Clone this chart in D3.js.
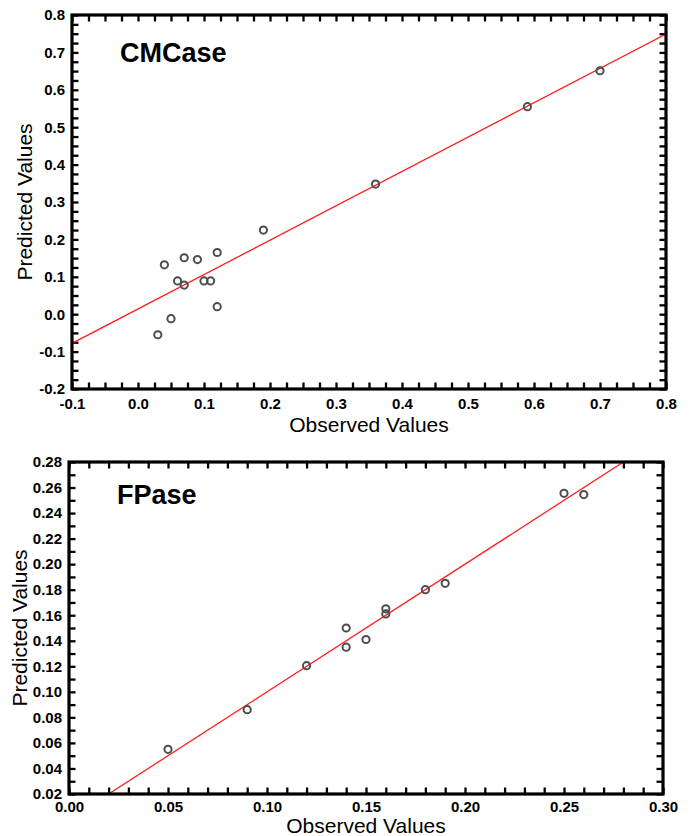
<!DOCTYPE html>
<html>
<head>
<meta charset="utf-8">
<script src="https://cdn.jsdelivr.net/npm/d3@7"></script>
<style>
  body { margin: 0; background: #fff; }
  svg { display: block; font-family: "Liberation Sans", Arial, sans-serif; }
</style>
</head>
<body>
<svg id="chart" width="693" height="836"></svg>
<script>
// CMCase panel
const cmObserved  = [0.03, 0.05, 0.04, 0.06, 0.07, 0.07, 0.09, 0.10, 0.11, 0.12, 0.12, 0.19, 0.36, 0.59, 0.70];
const cmPredicted = [-0.055, -0.012, 0.132, 0.089, 0.078, 0.151, 0.146, 0.089, 0.089, 0.165, 0.020, 0.225, 0.348, 0.555, 0.651];
const cmFit = [0.919, 0.014]; // slope, intercept
const cmXTicks = [-0.1, 0.0, 0.1, 0.2, 0.3, 0.4, 0.5, 0.6, 0.7, 0.8];
const cmYTicks = [-0.2, -0.1, 0.0, 0.1, 0.2, 0.3, 0.4, 0.5, 0.6, 0.7, 0.8];

// FPase panel
const fpObserved  = [0.05, 0.09, 0.12, 0.14, 0.14, 0.15, 0.16, 0.16, 0.18, 0.19, 0.25, 0.26];
const fpPredicted = [0.055, 0.086, 0.1205, 0.150, 0.135, 0.141, 0.165, 0.161, 0.180, 0.185, 0.2555, 0.2545];
const fpFit = [1.0, 0.0];
const fpXTicks = [0.00, 0.05, 0.10, 0.15, 0.20, 0.25, 0.30];
const fpYTicks = [0.02, 0.04, 0.06, 0.08, 0.10, 0.12, 0.14, 0.16, 0.18, 0.20, 0.22, 0.24, 0.26, 0.28];

const svg = d3.select('#chart');
const locale = d3.formatLocale({ decimal: '.', thousands: ',', grouping: [3], currency: ['', ''], minus: '-' });

function panel(opt) {
  const { left, right, top, bottom } = opt.box;
  const x = d3.scaleLinear().domain(d3.extent(opt.xTicks)).range([left, right]);
  const y = d3.scaleLinear().domain(d3.extent(opt.yTicks)).range([bottom, top]);
  const g = svg.append('g');

  const minorX = d3.range(x.domain()[0], x.domain()[1] + opt.xMinor / 2, opt.xMinor);
  const minorY = d3.range(y.domain()[0], y.domain()[1] + opt.yMinor / 2, opt.yMinor);
  const tick = 6.5;

  // inward ticks on all four sides
  g.append('g').attr('transform', `translate(0,${bottom})`)
    .call(d3.axisBottom(x).tickValues(minorX).tickSize(-tick).tickFormat(''));
  g.append('g').attr('transform', `translate(0,${top})`)
    .call(d3.axisTop(x).tickValues(minorX).tickSize(-tick).tickFormat(''));
  g.append('g').attr('transform', `translate(${left},0)`)
    .call(d3.axisLeft(y).tickValues(minorY).tickSize(-tick).tickFormat(''));
  g.append('g').attr('transform', `translate(${right},0)`)
    .call(d3.axisRight(y).tickValues(minorY).tickSize(-tick).tickFormat(''));

  // labelled axes
  const fmt = locale.format(opt.fmt);
  const xa = g.append('g').attr('transform', `translate(0,${bottom})`)
    .call(d3.axisBottom(x).tickValues(opt.xTicks).tickSize(0).tickPadding(opt.xPad).tickFormat(fmt));
  const ya = g.append('g').attr('transform', `translate(${left},0)`)
    .call(d3.axisLeft(y).tickValues(opt.yTicks).tickSize(0).tickPadding(7).tickFormat(fmt));
  [xa, ya].forEach(a => {
    a.selectAll('text').attr('font-size', 15).attr('font-weight', 'bold').attr('fill', '#000')
      .attr('font-family', '"Liberation Sans", Arial, sans-serif');
  });
  g.selectAll('.domain').remove();
  g.selectAll('.tick line').attr('stroke', '#000').attr('stroke-width', 2.3);

  // fit line
  const clipId = 'clip' + opt.name;
  svg.append('clipPath').attr('id', clipId)
    .append('rect').attr('x', left).attr('y', top).attr('width', right - left).attr('height', bottom - top);
  const [slope, icpt] = opt.fit;
  const xs = x.domain();
  g.append('line')
    .attr('clip-path', `url(#${clipId})`)
    .attr('x1', x(xs[0])).attr('y1', y(slope * xs[0] + icpt))
    .attr('x2', x(xs[1])).attr('y2', y(slope * xs[1] + icpt))
    .attr('stroke', '#ff2020').attr('stroke-width', 1.3);

  // points
  g.selectAll('circle.pt')
    .data(opt.obs.map((o, i) => [o, opt.pred[i]]))
    .enter().append('circle')
    .attr('class', 'pt')
    .attr('cx', d => x(d[0]))
    .attr('cy', d => y(d[1]))
    .attr('r', 3.6)
    .attr('fill', 'none')
    .attr('stroke', '#4d4d4d')
    .attr('stroke-width', 2);

  // frame
  g.append('rect')
    .attr('x', left).attr('y', top).attr('width', right - left).attr('height', bottom - top)
    .attr('fill', 'none').attr('stroke', '#000').attr('stroke-width', 3.2);

  // texts
  g.append('text')
    .attr('x', (left + right) / 2).attr('y', opt.xTitleY)
    .attr('text-anchor', 'middle').attr('font-size', 21).text('Observed Values');
  g.append('text')
    .attr('transform', `translate(${opt.yTitleX},${(top + bottom) / 2}) rotate(-90)`)
    .attr('text-anchor', 'middle').attr('font-size', 21).text('Predicted Values');
  g.append('text')
    .attr('x', opt.labelX).attr('y', opt.labelY)
    .attr('font-size', 27).attr('font-weight', 'bold').text(opt.name);
}

panel({
  name: 'CMCase', obs: cmObserved, pred: cmPredicted, fit: cmFit,
  xTicks: cmXTicks, yTicks: cmYTicks, xMinor: 0.025, yMinor: 0.025, fmt: '.1f',
  box: { left: 72, right: 666, top: 15, bottom: 389 },
  xPad: 9, xTitleY: 432, yTitleX: 32, labelX: 120, labelY: 62
});

panel({
  name: 'FPase', obs: fpObserved, pred: fpPredicted, fit: fpFit,
  xTicks: fpXTicks, yTicks: fpYTicks, xMinor: 0.01, yMinor: 0.01, fmt: '.2f',
  box: { left: 69, right: 663, top: 462, bottom: 794 },
  xPad: 7, xTitleY: 833, yTitleX: 27, labelX: 117, labelY: 504
});
</script>
</body>
</html>
